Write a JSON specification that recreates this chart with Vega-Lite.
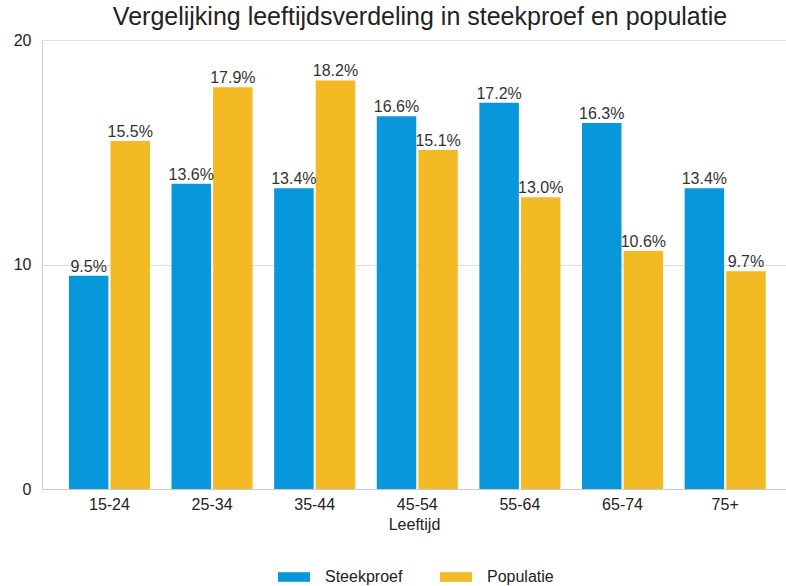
{
  "$schema": "https://vega.github.io/schema/vega-lite/v6.json",
  "width": 744,
  "height": 449,
  "autosize": {"type": "none"},
  "padding": {"left": 42, "top": 40, "right": 0, "bottom": 97},
  "background": "white",
  "config": {
    "view": {"stroke": null},
    "font": "Liberation Sans"
  },
  "title": {
    "text": "Vergelijking leeftijdsverdeling in steekproef en populatie",
    "fontSize": 25,
    "fontWeight": "normal",
    "color": "#222222",
    "offset": 2,
    "anchor": "middle",
    "dx": 6
  },
  "data": {
    "values": [
      {"leeftijd": "15-24", "groep": "Steekproef", "pct": 9.5},
      {"leeftijd": "15-24", "groep": "Populatie", "pct": 15.5},
      {"leeftijd": "25-34", "groep": "Steekproef", "pct": 13.6},
      {"leeftijd": "25-34", "groep": "Populatie", "pct": 17.9},
      {"leeftijd": "35-44", "groep": "Steekproef", "pct": 13.4},
      {"leeftijd": "35-44", "groep": "Populatie", "pct": 18.2},
      {"leeftijd": "45-54", "groep": "Steekproef", "pct": 16.6},
      {"leeftijd": "45-54", "groep": "Populatie", "pct": 15.1},
      {"leeftijd": "55-64", "groep": "Steekproef", "pct": 17.2},
      {"leeftijd": "55-64", "groep": "Populatie", "pct": 13.0},
      {"leeftijd": "65-74", "groep": "Steekproef", "pct": 16.3},
      {"leeftijd": "65-74", "groep": "Populatie", "pct": 10.6},
      {"leeftijd": "75+", "groep": "Steekproef", "pct": 13.4},
      {"leeftijd": "75+", "groep": "Populatie", "pct": 9.7}
    ]
  },
  "transform": [
    {"calculate": "format(datum.pct, '.1f') + '%'", "as": "label"}
  ],
  "encoding": {
    "x": {
      "field": "leeftijd",
      "type": "nominal",
      "sort": null,
      "title": "Leeftijd",
      "scale": {"paddingInner": 0.21, "paddingOuter": 0.23, "align": 0.57},
      "axis": {
        "labelAngle": 0,
        "labelFontSize": 16,
        "labelColor": "#222222",
        "labelPadding": 7,
        "titleFontSize": 16,
        "titleFontWeight": "normal",
        "titleColor": "#222222",
        "titlePadding": 4,
        "ticks": false,
        "domainColor": "#cccccc",
        "grid": false
      }
    },
    "xOffset": {
      "field": "groep",
      "type": "nominal",
      "sort": ["Steekproef", "Populatie"],
      "scale": {"paddingInner": 0.05}
    },
    "y": {
      "field": "pct",
      "type": "quantitative",
      "title": null,
      "scale": {"domain": [0, 20]},
      "axis": {
        "values": [0, 10, 20],
        "labelFontSize": 16,
        "labelColor": "#222222",
        "labelPadding": 11,
        "ticks": false,
        "domainColor": "#cccccc",
        "gridColor": "#dddddd",
        "grid": true
      }
    }
  },
  "layer": [
    {
      "mark": {"type": "bar"},
      "encoding": {
        "color": {
          "field": "groep",
          "type": "nominal",
          "sort": ["Steekproef", "Populatie"],
          "scale": {"domain": ["Steekproef", "Populatie"], "range": ["#0997DC", "#F3BA26"]},
          "legend": {
            "title": null,
            "orient": "none",
            "direction": "horizontal",
            "legendX": 236,
            "legendY": 521,
            "symbolType": "M-1,-0.3H1V0.3H-1Z",
            "symbolSize": 1024,
            "symbolStrokeWidth": 0,
            "labelFontSize": 16,
            "labelColor": "#222222",
            "labelOffset": 15,
            "columnPadding": 37,
            "padding": 0
          }
        }
      }
    },
    {
      "mark": {"type": "text", "dy": -9, "fontSize": 16, "color": "#333333"},
      "encoding": {
        "text": {"field": "label"}
      }
    }
  ]
}
